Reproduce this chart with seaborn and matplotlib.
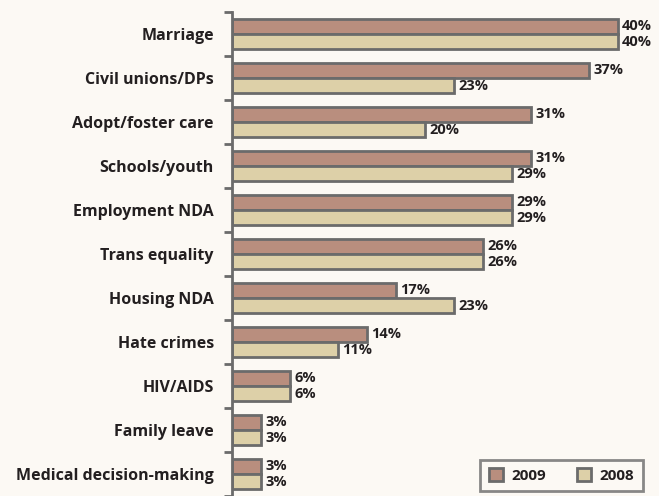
import matplotlib
matplotlib.use("Agg")
import matplotlib.pyplot as plt
import seaborn as sns
import pandas as pd
import numpy as np
from matplotlib.patches import Patch

categories = ["Marriage", "Civil unions/DPs", "Adopt/foster care", "Schools/youth",
              "Employment NDA", "Trans equality", "Housing NDA", "Hate crimes",
              "HIV/AIDS", "Family leave", "Medical decision-making"]
values_2009 = [40, 37, 31, 31, 29, 26, 17, 14, 6, 3, 3]
values_2008 = [40, 23, 20, 29, 29, 26, 23, 11, 6, 3, 3]
series = ["2009", "2008"]

df = pd.DataFrame({
    "category": categories * 2,
    "value": values_2009 + values_2008,
    "year": ["2009"] * len(categories) + ["2008"] * len(categories),
})

bg = "#FCF9F4"
colors = {"2009": "#B98E7E", "2008": "#DDD0A8"}
edge = "#6B6B6B"
txt = "#231F20"

sns.set_theme(style="white")
plt.rcParams["font.family"] = ["Open Sans", "DejaVu Sans"]

fig = plt.figure(figsize=(6.59, 4.96), dpi=100, facecolor=bg)
ax = fig.add_axes([232 / 659, 0, (659 - 232) / 659, (496 - 12) / 496])
ax.set_facecolor(bg)

sns.barplot(data=df, y="category", x="value", hue="year", order=categories,
            hue_order=series, palette=colors, width=0.7, edgecolor=edge,
            linewidth=2, ax=ax, legend=False, saturation=1)

for cont in ax.containers:
    ax.bar_label(cont, labels=[f"{int(v)}%" for v in cont.datavalues], padding=3,
                 fontsize=10.5, fontweight="bold", color=txt)

ax.set_xlim(0, 44.25)
ax.set_ylim(len(categories) - 0.5, -0.5)
ax.set_xlabel("")
ax.set_ylabel("")
ax.set_xticks([])
for s in ["top", "right", "bottom"]:
    ax.spines[s].set_visible(False)
ax.spines["left"].set_color(edge)
ax.spines["left"].set_linewidth(2)

ax.set_yticks(np.arange(len(categories)))
ax.set_yticklabels(categories, fontsize=11.5, fontweight="bold", color=txt)
ax.tick_params(axis="y", which="major", length=0, pad=13)
ax.set_yticks(np.arange(-0.5, len(categories), 1), minor=True)
ax.tick_params(axis="y", which="minor", length=6, width=2, color=edge, left=True)

handles = [Patch(facecolor=colors[s], edgecolor=edge, linewidth=2, label=s) for s in series]
leg = ax.legend(handles=handles, loc="lower right", ncol=2, frameon=True,
                bbox_to_anchor=(0.98, -0.006), handlelength=0.9, handleheight=0.9,
                prop={"weight": "bold", "size": 11}, fancybox=False,
                columnspacing=2.0, borderpad=0.55, handletextpad=0.6)
leg.get_frame().set_edgecolor(edge)
leg.get_frame().set_linewidth(2)
leg.get_frame().set_facecolor(bg)
for t in leg.get_texts():
    t.set_color(txt)

fig.savefig("out.png", dpi=100, facecolor=bg)
